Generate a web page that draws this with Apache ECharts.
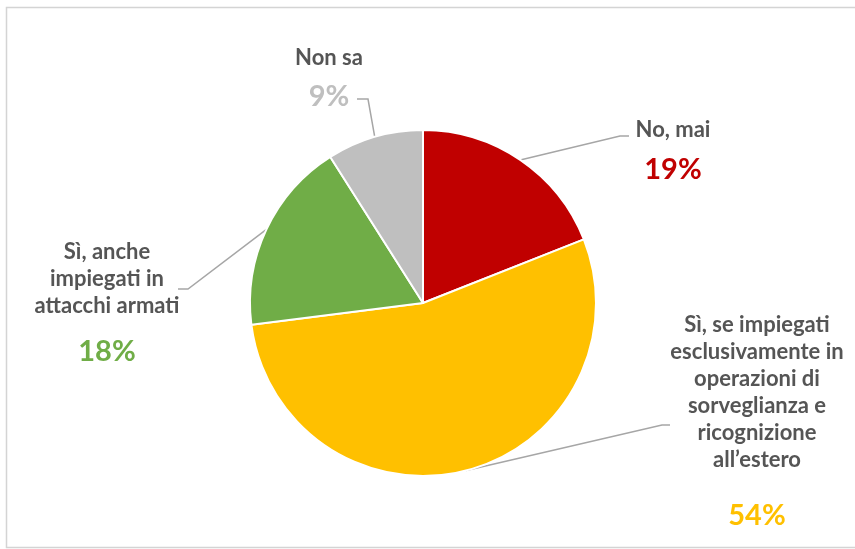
<!DOCTYPE html>
<html>
<head>
<meta charset="utf-8">
<script src="https://cdn.jsdelivr.net/npm/echarts@6/dist/echarts.min.js"></script>
<style>
html,body{margin:0;padding:0;background:#fff;}
#chart{width:855px;height:549px;}
</style>
</head>
<body>
<div id="chart"></div>
<script>
// Data
const categories = ['No, mai', 'Sì, se impiegati\nesclusivamente in\noperazioni di\nsorveglianza e\nricognizione\nall\u2019estero', 'Sì, anche\nimpiegati in\nattacchi armati', 'Non sa'];
const values = [19, 54, 18, 9];
const colors = ['#C00000', '#FFC000', '#70AD47', '#BFBFBF'];

// Label placement (layout only)
const labelPos = [
  {x: 673, y: 116, gap: 19, elbow: [[620, 136], [629, 136]]},
  {x: 757, y: 311, gap: 52, elbow: [[662, 425], [670, 425]]},
  {x: 107, y: 238, gap: 31, elbow: [[188, 289], [178, 289]]},
  {x: 329, y: 44, gap: 18, elbow: [[368, 99], [357, 99]]}
];

const chart = echarts.init(document.getElementById('chart'));
const FONT = 'Lato';

const data = categories.map((c, i) => ({
  name: c,
  value: values[i],
  itemStyle: {color: colors[i]},
  label: {
    formatter: function (p) {
      const lines = p.name.split('\n').map(l => '{n|' + l + '}').join('\n');
      return lines + '\n{p' + i + '|' + p.value + '%}';
    },
    rich: (function () {
      const r = {n: {fontFamily: FONT, fontWeight: 'bold', fontSize: 22, color: '#555555', lineHeight: 27, align: 'center'}};
      r['p' + i] = {fontFamily: FONT, fontWeight: 'bold', fontSize: 29, color: colors[i], lineHeight: 34, padding: [labelPos[i].gap, 0, 0, 0], align: 'center'};
      return r;
    })()
  }
}));

chart.setOption({
  backgroundColor: '#ffffff',
  animation: false,
  graphic: [{
    type: 'rect',
    shape: {x: 6.5, y: 7.5, width: 870, height: 540},
    style: {fill: 'none', stroke: '#D4D4D4', lineWidth: 1.5},
    silent: true
  }],
  series: [{
    type: 'pie',
    center: [423, 303],
    radius: [0, 173],
    startAngle: 90,
    clockwise: true,
    avoidLabelOverlap: false,
    data: data,
    itemStyle: {borderColor: '#ffffff', borderWidth: 2},
    label: {show: true, position: 'outside', align: 'center'},
    labelLine: {show: true, length: 20, length2: 10, smooth: false, lineStyle: {color: '#A6A6A6', width: 1.5}},
    labelLayout: function (params) {
      const i = params.dataIndex;
      const lp = labelPos[i];
      const pts = params.labelLinePoints;
      const start = pts && pts[0] ? pts[0] : null;
      const res = {x: lp.x, y: lp.y, align: 'center', verticalAlign: 'top'};
      if (start) res.labelLinePoints = [start, lp.elbow[0], lp.elbow[1]];
      return res;
    }
  }]
});
</script>
</body>
</html>
